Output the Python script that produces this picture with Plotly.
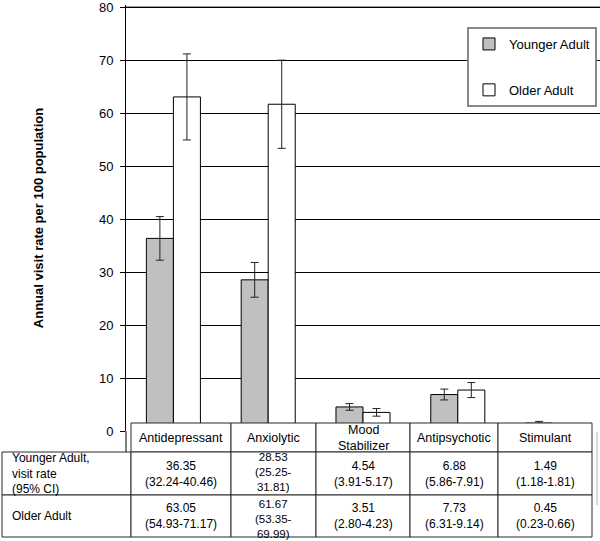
import plotly.graph_objects as go

# ---------------- data ----------------
categories = ["Antidepressant", "Anxiolytic", "Mood Stabilizer", "Antipsychotic", "Stimulant"]
header_labels = ["Antidepressant", "Anxiolytic", "Mood<br>Stabilizer", "Antipsychotic", "Stimulant"]

younger = [36.35, 28.53, 4.54, 6.88, 1.49]
younger_lo = [32.24, 25.25, 3.91, 5.86, 1.18]
younger_hi = [40.46, 31.81, 5.17, 7.91, 1.81]

older = [63.05, 61.67, 3.51, 7.73, 0.45]
older_lo = [54.93, 53.35, 2.80, 6.31, 0.23]
older_hi = [71.17, 69.99, 4.23, 9.14, 0.66]

series_names = ["Younger Adult", "Older Adult"]
row_labels = ["Younger Adult,<br>visit rate<br>(95% CI)", "Older Adult"]
y_ticks = [0, 10, 20, 30, 40, 50, 60, 70, 80]
y_title = "Annual visit rate per 100 population"

# ---------------- layout constants (pixels) ----------------
W, H = 600, 541
ML, MR, MT, MB = 126, 0, 5, 110
PW = W - ML - MR
PH = H - MT - MB
Y_MAX = 80.4
FONT = "Liberation Sans, Arial, sans-serif"


def px_x(px):
    return (px - ML) / PW


def px_y(py):
    return (H - MB - py) / PH


col_edges = [131, 231, 316, 410, 498, 592]
label_left = 2
row_edges = [423, 452, 495, 537]
BORDER = "#2b2b2b"
CELL_FONT = 12

fig = go.Figure()

fig.add_trace(go.Bar(
    name=series_names[0], x=categories, y=younger,
    marker=dict(color="#C0C0C0", line=dict(color="#000000", width=1)),
    error_y=dict(type="data", symmetric=False,
                 array=[h - v for h, v in zip(younger_hi, younger)],
                 arrayminus=[v - l for v, l in zip(younger, younger_lo)],
                 color="#222222", thickness=1, width=4),
    legendgroup="a",
))
fig.add_trace(go.Bar(
    name=series_names[1], x=categories, y=older,
    marker=dict(color="#FFFFFF", line=dict(color="#000000", width=1)),
    error_y=dict(type="data", symmetric=False,
                 array=[h - v for h, v in zip(older_hi, older)],
                 arrayminus=[v - l for v, l in zip(older, older_lo)],
                 color="#222222", thickness=1, width=4),
    legendgroup="b",
))

shapes = []
annotations = []

# top gridline (plotly drops grid lines at the very edge of the range)
shapes.append(dict(type="line", xref="paper", yref="y", layer="below",
                   x0=0, x1=1, y0=y_ticks[-1], y1=y_ticks[-1],
                   line=dict(color="#000", width=1)))

# header row cells
for i, lab in enumerate(header_labels):
    x0, x1 = col_edges[i], col_edges[i + 1]
    shapes.append(dict(type="rect", xref="paper", yref="paper", layer="above",
                       x0=px_x(x0), x1=px_x(x1), y0=px_y(row_edges[1]), y1=px_y(row_edges[0]),
                       fillcolor="white", line=dict(color=BORDER, width=1)))
    annotations.append(dict(xref="paper", yref="paper", x=px_x((x0 + x1) / 2),
                            y=px_y((row_edges[0] + row_edges[1]) / 2),
                            text=lab, showarrow=False, xanchor="center", yanchor="middle",
                            font=dict(family=FONT, size=12.5, color="#000")))

# data rows
rows = [(younger, younger_lo, younger_hi), (older, older_lo, older_hi)]
CHAR_W = 6.95
for r, (vals, los, his) in enumerate(rows):
    ya, yb = row_edges[r + 1], row_edges[r + 2]
    # label cell
    shapes.append(dict(type="rect", xref="paper", yref="paper", layer="above",
                       x0=px_x(label_left), x1=px_x(col_edges[0]), y0=px_y(yb), y1=px_y(ya),
                       fillcolor="white", line=dict(color=BORDER, width=1)))
    annotations.append(dict(xref="paper", yref="paper", x=px_x(label_left + 8),
                            y=px_y((ya + yb) / 2), text=row_labels[r], showarrow=False,
                            xanchor="left", yanchor="middle", align="left",
                            font=dict(family=FONT, size=CELL_FONT, color="#000")))
    for i in range(len(categories)):
        x0, x1 = col_edges[i], col_edges[i + 1]
        ci = f"({los[i]:.2f}-{his[i]:.2f})"
        size, shift = CELL_FONT, 0
        if len(ci) * CHAR_W > (x1 - x0) - 8:
            ci = f"({los[i]:.2f}-<br>{his[i]:.2f})"
            size, shift = 11.5, (2 if r == 0 else -3)
        txt = f"{vals[i]:.2f}<br>{ci}"
        shapes.append(dict(type="rect", xref="paper", yref="paper", layer="above",
                           x0=px_x(x0), x1=px_x(x1), y0=px_y(yb), y1=px_y(ya),
                           fillcolor="white", line=dict(color=BORDER, width=1)))
        annotations.append(dict(xref="paper", yref="paper", x=px_x((x0 + x1) / 2),
                                y=px_y((ya + yb) / 2), yshift=shift, text=txt, showarrow=False,
                                xanchor="center", yanchor="middle", align="center",
                                borderpad=0,
                                font=dict(family=FONT, size=size, color="#000")))

# axis line continuation down to the table
shapes.append(dict(type="line", xref="paper", yref="paper", layer="above",
                   x0=0, x1=0, y0=px_y(row_edges[1]), y1=0,
                   line=dict(color="#000", width=1)))
# faint clipped border at the right edge
shapes.append(dict(type="line", xref="paper", yref="paper", layer="above",
                   x0=px_x(597), x1=px_x(597), y0=px_y(505), y1=px_y(432),
                   line=dict(color="#b0b0b0", width=1)))

fig.update_layout(
    width=W, height=H,
    margin=dict(l=ML, r=MR, t=MT, b=MB),
    paper_bgcolor="white", plot_bgcolor="white",
    font=dict(family=FONT, size=13, color="#000"),
    barmode="group", bargap=0.43, bargroupgap=0,
    showlegend=True,
    legend=dict(x=px_x(597), xanchor="right", y=px_y(27), yanchor="top",
                bgcolor="white", bordercolor="#888888", borderwidth=2,
                font=dict(family=FONT, size=13, color="#000"),
                tracegroupgap=26, itemwidth=30),
    xaxis=dict(showticklabels=False, showgrid=False, zeroline=False,
               showline=False, ticks="", range=[-0.5, 4.5]),
    yaxis=dict(range=[0, Y_MAX], tickvals=y_ticks, showgrid=True, gridcolor="#000000",
               gridwidth=1, zeroline=False, showline=True, linecolor="#000",
               linewidth=1, ticks="outside", ticklen=5, tickcolor="#000",
               ticklabelstandoff=4, ticklabeloverflow="allow",
               tickfont=dict(family=FONT, size=13, color="#000"),
               title=dict(text=y_title, standoff=52,
                          font=dict(family=FONT, size=13, color="#000", weight="bold"))),
    shapes=shapes,
    annotations=annotations,
)

fig.write_html("out.html", config={"displayModeBar": False},
               post_script="document.body.style.margin='0';document.body.style.padding='0';")
